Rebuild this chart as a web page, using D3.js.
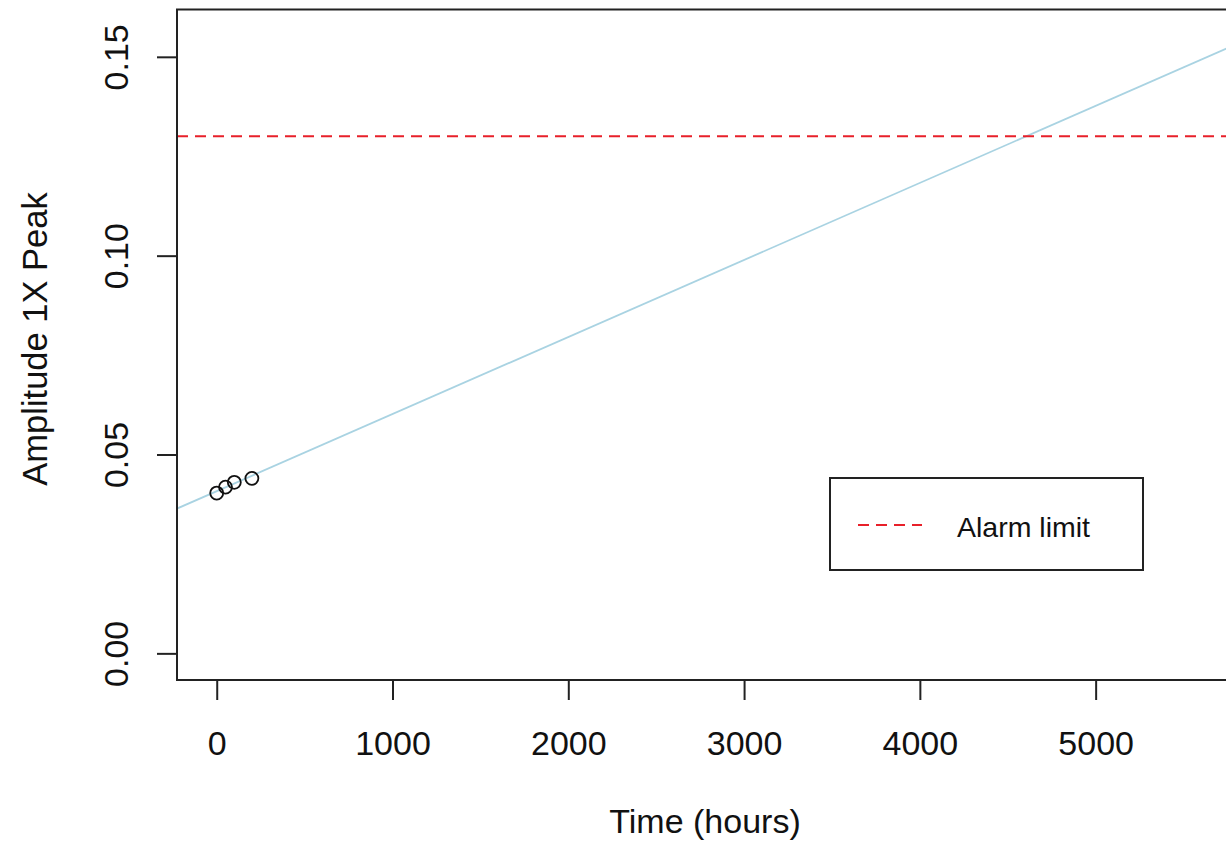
<!DOCTYPE html>
<html>
<head>
<meta charset="utf-8">
<script src="https://cdn.jsdelivr.net/npm/d3@7"></script>
<style>
  html, body { margin: 0; padding: 0; background: #fff; }
  text { font-family: "Liberation Sans", Arial, sans-serif; fill: #111; }
</style>
</head>
<body>
<div class="chart"></div>
<script>
// Observed amplitude readings (hours, 1X peak amplitude)
var obsHours = [0, 50, 100, 200];
var obsAmplitude = [0.0403, 0.0418, 0.0430, 0.0440];

// Trend line, read at both ends of the plot
var trendHours = [-226, 5770];
var trendAmplitude = [0.0364, 0.1526];

// Alarm limit
var alarmLimit = [0.13];
var legendLabels = ["Alarm limit"];

// Tick values
var xTicks = [0, 1000, 2000, 3000, 4000, 5000];
var yTicks = [0, 0.05, 0.10, 0.15];

var svgWidth = 1226;
var svgHeight = 845;

// plot region (box) in pixels
var box = { left: 177, right: 1231, top: 9.5, bottom: 680 };

var svg = d3.select(".chart")
  .append("svg")
  .attr("width", svgWidth)
  .attr("height", svgHeight);

// scales
var xScale = d3.scaleLinear()
  .domain([-226, 5770])
  .range([box.left, box.right]);

var yScale = d3.scaleLinear()
  .domain([-0.0067, 0.1619])
  .range([box.bottom, box.top]);

// clip to the plot box
svg.append("clipPath")
  .attr("id", "plotclip")
  .append("rect")
  .attr("x", box.left)
  .attr("y", box.top)
  .attr("width", box.right - box.left)
  .attr("height", box.bottom - box.top);

var plot = svg.append("g").attr("clip-path", "url(#plotclip)");

// trend line
var line = d3.line()
  .x(d => xScale(d[0]))
  .y(d => yScale(d[1]));

plot.append("path")
  .attr("d", line(d3.zip(trendHours, trendAmplitude)))
  .attr("fill", "none")
  .attr("stroke", "#a9d3e2")
  .attr("stroke-width", 1.8);

// alarm limit
plot.selectAll(".alarm")
  .data(alarmLimit)
  .enter()
  .append("line")
  .attr("class", "alarm")
  .attr("x1", box.left)
  .attr("x2", box.right)
  .attr("y1", d => yScale(d))
  .attr("y2", d => yScale(d))
  .attr("stroke", "#e8202a")
  .attr("stroke-width", 2)
  .attr("stroke-dasharray", "11,7");

// observed points
plot.selectAll("circle")
  .data(d3.zip(obsHours, obsAmplitude))
  .enter()
  .append("circle")
  .attr("cx", d => xScale(d[0]))
  .attr("cy", d => yScale(d[1]))
  .attr("r", 6.5)
  .attr("fill", "none")
  .attr("stroke", "#111")
  .attr("stroke-width", 1.8);

// box
svg.append("rect")
  .attr("x", box.left)
  .attr("y", box.top)
  .attr("width", box.right - box.left)
  .attr("height", box.bottom - box.top)
  .attr("fill", "none")
  .attr("stroke", "#222")
  .attr("stroke-width", 2);

// x axis
var bottomAxis = d3.axisBottom(xScale)
  .tickValues(xTicks)
  .tickSize(20)
  .tickPadding(31)
  .tickFormat(d3.format("d"));

var xAxisGroup = svg.append("g")
  .attr("transform", `translate(0, ${box.bottom})`)
  .call(bottomAxis);

xAxisGroup.select(".domain").remove();
xAxisGroup.selectAll(".tick line").attr("stroke", "#222").attr("stroke-width", 2);
xAxisGroup.selectAll(".tick text")
  .attr("font-size", "34px")
  .attr("font-family", "Liberation Sans, Arial, sans-serif")
  .attr("fill", "#111");

// y axis
var leftAxis = d3.axisLeft(yScale)
  .tickValues(yTicks)
  .tickSize(20)
  .tickFormat(d3.format(".2f"));

var yAxisGroup = svg.append("g")
  .attr("transform", `translate(${box.left}, 0)`)
  .call(leftAxis);

yAxisGroup.select(".domain").remove();
yAxisGroup.selectAll(".tick line").attr("stroke", "#222").attr("stroke-width", 2);
// R style: labels rotated, parallel to the axis
yAxisGroup.selectAll(".tick text")
  .attr("x", null)
  .attr("dy", null)
  .attr("transform", "translate(-49, 0) rotate(-90)")
  .attr("text-anchor", "middle")
  .attr("font-size", "34px")
  .attr("font-family", "Liberation Sans, Arial, sans-serif")
  .attr("fill", "#111");

// axis titles
svg.append("text")
  .attr("x", 705)
  .attr("y", 833)
  .attr("text-anchor", "middle")
  .attr("font-size", "34px")
  .text("Time (hours)");

svg.append("text")
  .attr("transform", "translate(47, 339) rotate(-90)")
  .attr("text-anchor", "middle")
  .attr("font-size", "34.5px")
  .text("Amplitude 1X Peak");

// legend
var legend = svg.append("g");

legend.append("rect")
  .attr("x", 830)
  .attr("y", 478)
  .attr("width", 313)
  .attr("height", 92)
  .attr("fill", "#fff")
  .attr("stroke", "#222")
  .attr("stroke-width", 2);

legend.selectAll(".key")
  .data(legendLabels)
  .enter()
  .append("line")
  .attr("class", "key")
  .attr("x1", 858)
  .attr("x2", 922)
  .attr("y1", 525)
  .attr("y2", 525)
  .attr("stroke", "#e8202a")
  .attr("stroke-width", 2)
  .attr("stroke-dasharray", "11,7");

legend.selectAll(".label")
  .data(legendLabels)
  .enter()
  .append("text")
  .attr("class", "label")
  .attr("x", 957)
  .attr("y", 537)
  .attr("font-size", "28.5px")
  .text(d => d);
</script>
</body>
</html>
